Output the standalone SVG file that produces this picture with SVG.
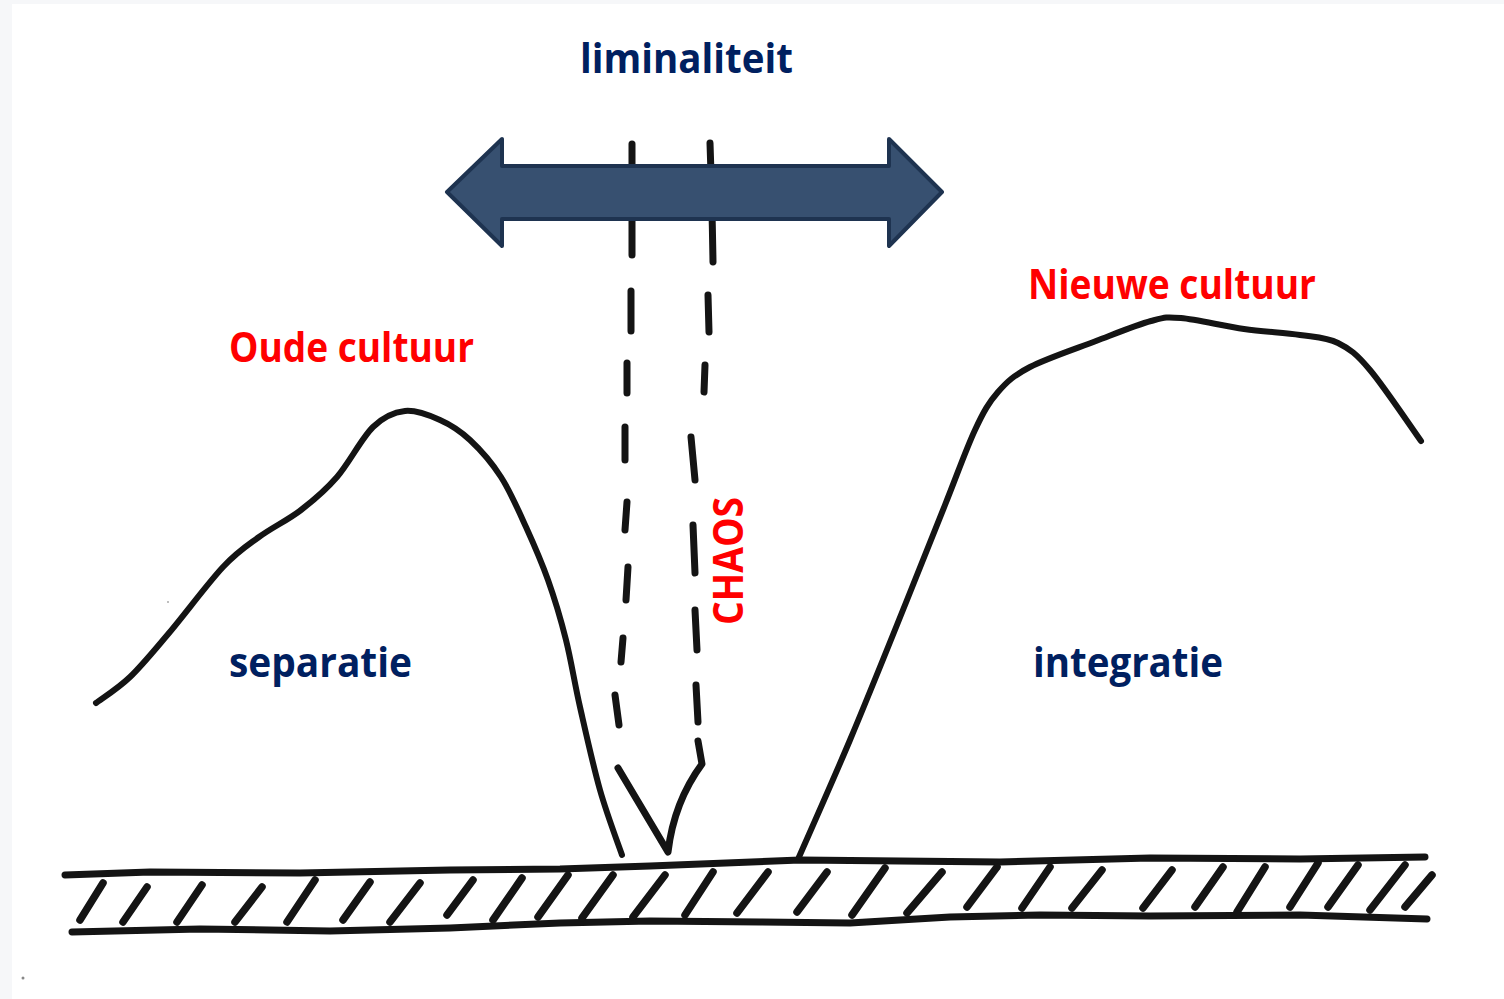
<svg xmlns="http://www.w3.org/2000/svg" width="1504" height="999" viewBox="0 0 1504 999">
  <style>
    .ink { fill: none; stroke: #141414; stroke-linecap: round; stroke-linejoin: round; }
    .hill { stroke-width: 6; }
    .ground { stroke-width: 7; }
    .hatch { stroke-width: 7.5; }
    .dash { stroke-width: 7; }
    .lbl { font-family: "Open Sans", "Liberation Sans", sans-serif; font-weight: bold; font-size: 42px; }
    .navy { fill: #002060; }
    .red { fill: #ff0000; }
    .arrow { fill: #375070; stroke: #1e3350; stroke-width: 4; stroke-linejoin: round; }
  </style>
  <rect x="0" y="0" width="1504" height="999" fill="#f6f7f9"/>
  <rect x="12" y="4" width="1492" height="995" fill="#ffffff"/>
  <circle cx="23" cy="978" r="1.5" fill="#888"/>
  <circle cx="168" cy="602" r="1" fill="#aaa"/>

  <g id="ground">
    <polyline class="ink ground" points="65,875 150,872 300,873 450,870 560,869 650,866 800,860 900,861 1000,862 1150,858 1300,859 1425,857"/>
    <polyline class="ink ground" points="72,932 200,929 330,931 450,928 560,923 650,921 760,922 850,923 950,917 1040,915 1150,916 1300,915 1427,919"/>
    <g class="ink hatch">
      <line x1="80" y1="920" x2="103" y2="883"/>
      <line x1="123" y1="922" x2="147" y2="887"/>
      <line x1="177" y1="922" x2="202" y2="885"/>
      <line x1="235" y1="922" x2="262" y2="887"/>
      <line x1="287" y1="922" x2="315" y2="880"/>
      <line x1="343" y1="920" x2="370" y2="882"/>
      <line x1="390" y1="922" x2="420" y2="883"/>
      <line x1="447" y1="915" x2="473" y2="880"/>
      <line x1="493" y1="920" x2="522" y2="878"/>
      <line x1="538" y1="917" x2="568" y2="875"/>
      <line x1="582" y1="918" x2="613" y2="875"/>
      <line x1="633" y1="917" x2="665" y2="875"/>
      <line x1="685" y1="915" x2="713" y2="872"/>
      <line x1="737" y1="913" x2="768" y2="872"/>
      <line x1="797" y1="912" x2="827" y2="872"/>
      <line x1="852" y1="915" x2="885" y2="868"/>
      <line x1="907" y1="913" x2="942" y2="872"/>
      <line x1="967" y1="907" x2="997" y2="867"/>
      <line x1="1022" y1="908" x2="1050" y2="867"/>
      <line x1="1072" y1="908" x2="1102" y2="870"/>
      <line x1="1143" y1="908" x2="1172" y2="870"/>
      <line x1="1195" y1="907" x2="1223" y2="867"/>
      <line x1="1237" y1="912" x2="1265" y2="867"/>
      <line x1="1290" y1="907" x2="1318" y2="863"/>
      <line x1="1328" y1="907" x2="1358" y2="865"/>
      <line x1="1370" y1="910" x2="1405" y2="865"/>
      <line x1="1405" y1="907" x2="1432" y2="875"/>
    </g>
  </g>

  <g id="oude-cultuur-hill">
    <path class="ink hill" d="M96,703 C101.7,698.7 117.8,688.7 130,677 C142.2,665.3 153.5,651.3 169,633 C184.5,614.7 208,583 223,567 C238,551 246,546.5 259,537 C272,527.5 288,520 301,510 C314,500 325,490.8 337,477 C349,463.2 361.7,438 373,427 C384.3,416 393.8,412.2 405,411 C416.2,409.8 429.2,415.2 440,420 C450.8,424.8 459.8,430.5 470,440 C480.2,449.5 491.7,462.5 501,477 C510.3,491.5 518.2,509.8 526,527 C533.8,544.2 541.3,561.2 548,580 C554.7,598.8 560.7,618.8 566,640 C571.3,661.2 574.3,682 580,707 C585.7,732 593,765.3 600,790 C607,814.7 618.3,844.2 622,855"/>
  </g>

  <g id="nieuwe-cultuur-hill">
    <path class="ink hill" d="M799,857 C807.5,837.5 832.3,782 850,740 C867.7,698 889.2,644.2 905,605 C920.8,565.8 933.3,534.2 945,505 C956.7,475.8 966.2,448.8 975,430 C983.8,411.2 988.8,402.5 998,392 C1007.2,381.5 1013.7,375.5 1030,367 C1046.3,358.5 1075.8,348.7 1096,341 C1116.2,333.3 1136.8,324.8 1151,321 C1165.2,317.2 1165.5,316.7 1181,318 C1196.5,319.3 1224.2,326.2 1244,329 C1263.8,331.8 1284.3,332.7 1300,335 C1315.7,337.3 1326.3,337.2 1338,343 C1349.7,348.8 1356.2,353.7 1370,370 C1383.8,386.3 1412.5,429.2 1421,441"/>
  </g>

  <g id="liminal-dashes">
    <g class="ink dash">
      <path d="M632,144 L632,255"/>
      <path d="M631,291 L631,331"/>
      <path d="M627,363 L627,393"/>
      <path d="M625,427 L625,460"/>
      <path d="M627,502 L625,530"/>
      <path d="M628,567 L626,600"/>
      <path d="M623,638 L621,662"/>
      <path d="M615,695 L619,725"/>
      <path d="M710,143 Q712,200 713,262"/>
      <path d="M708,295 L709,332"/>
      <path d="M705,365 L704,392"/>
      <path d="M691,437 L695,480"/>
      <path d="M693,525 L695,573"/>
      <path d="M695,610 L697,650"/>
      <path d="M696,685 L698,722"/>
      <path d="M618,768 L668,852 Q674,802 702,764 L698,741"/>
    </g>
  </g>

  <g id="connectors">
    <polygon class="arrow" points="447,192 502,139 502,166 889,166 889,139 942,192 889,246 889,219 502,219 502,246"/>
  </g>

  <g id="label-liminaliteit">
    <text class="lbl navy" x="580" y="73" textLength="213" lengthAdjust="spacingAndGlyphs">liminaliteit</text>
  </g>
  <g id="label-oude-cultuur">
    <text class="lbl red" x="229" y="362" textLength="245" lengthAdjust="spacingAndGlyphs">Oude cultuur</text>
  </g>
  <g id="label-nieuwe-cultuur">
    <text class="lbl red" x="1028" y="299" textLength="288" lengthAdjust="spacingAndGlyphs">Nieuwe cultuur</text>
  </g>
  <g id="label-separatie">
    <text class="lbl navy" x="229" y="677" textLength="183" lengthAdjust="spacingAndGlyphs">separatie</text>
  </g>
  <g id="label-integratie">
    <text class="lbl navy" x="1033" y="677" textLength="190" lengthAdjust="spacingAndGlyphs">integratie</text>
  </g>
  <g id="label-chaos">
    <text class="lbl red" transform="translate(743,625) rotate(-90)" x="0" y="0" textLength="128" lengthAdjust="spacingAndGlyphs">CHAOS</text>
  </g>
</svg>
